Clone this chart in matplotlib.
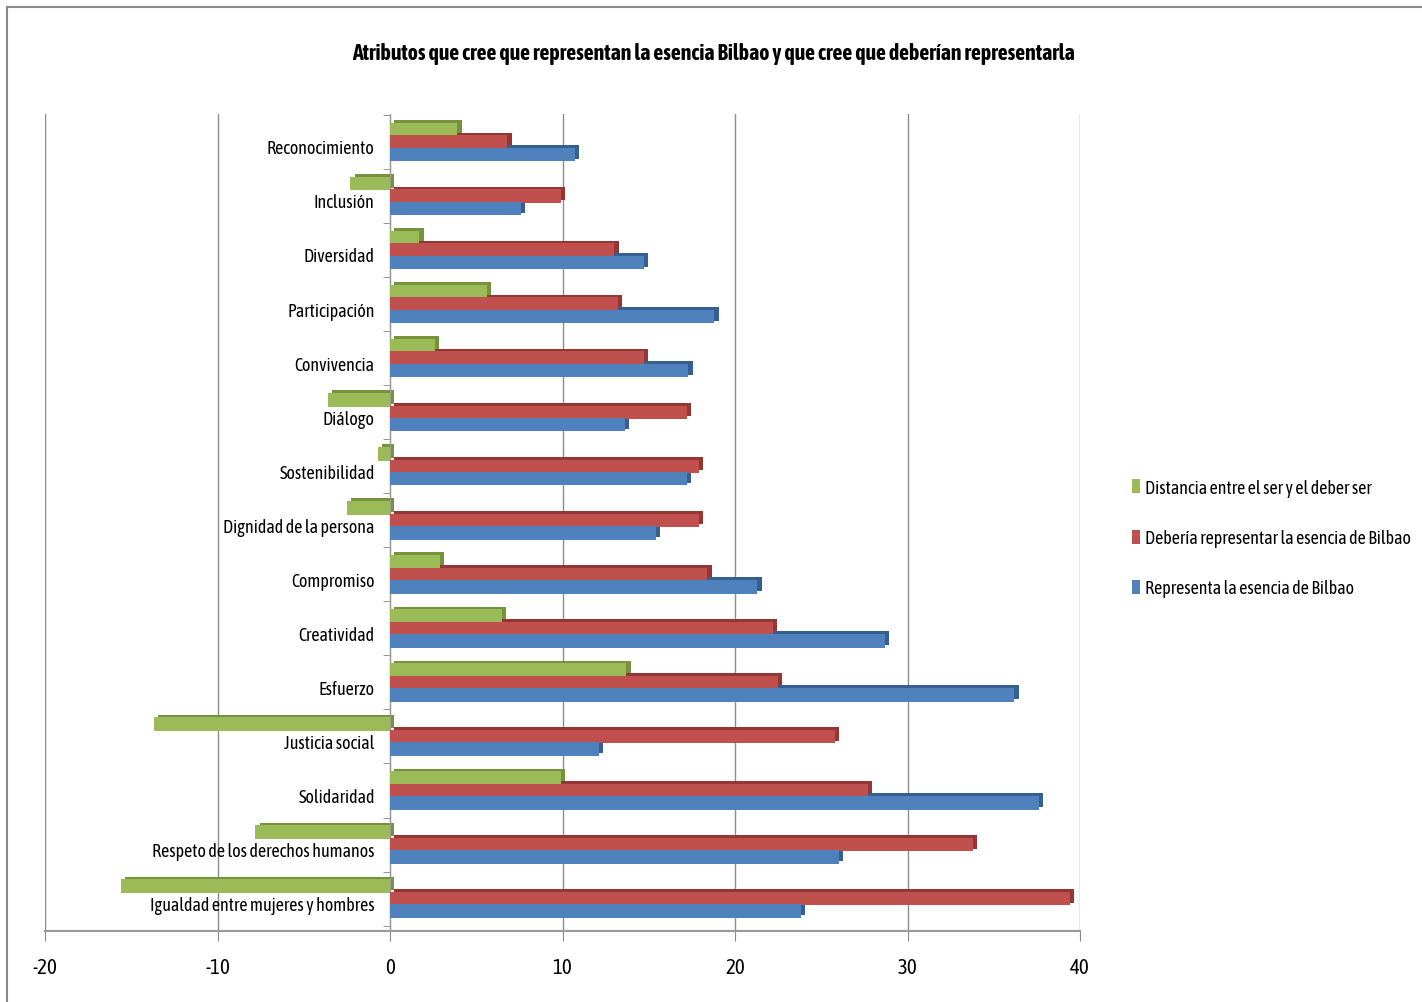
import matplotlib.pyplot as plt
import numpy as np
from matplotlib.patches import Rectangle

plt.rcParams["font.family"] = ["Asap Condensed", "Archivo Narrow", "DejaVu Sans"]

categories = [
    "Reconocimiento",
    "Inclusión",
    "Diversidad",
    "Participación",
    "Convivencia",
    "Diálogo",
    "Sostenibilidad",
    "Dignidad de la persona",
    "Compromiso",
    "Creatividad",
    "Esfuerzo",
    "Justicia social",
    "Solidaridad",
    "Respeto de los derechos humanos",
    "Igualdad entre mujeres y hombres",
]
representa = [10.7, 7.6, 14.7, 18.8, 17.3, 13.6, 17.2, 15.4, 21.3, 28.7, 36.2, 12.1, 37.6, 26.0, 23.8]
deberia = [6.8, 9.9, 13.0, 13.2, 14.7, 17.2, 17.9, 17.9, 18.4, 22.2, 22.5, 25.8, 27.7, 33.8, 39.4]
distancia = [3.9, -2.3, 1.7, 5.6, 2.6, -3.6, -0.7, -2.5, 2.9, 6.5, 13.7, -13.7, 9.9, -7.8, -15.6]
x_ticks = [-20, -10, 0, 10, 20, 30, 40]

series = [
    ("Distancia entre el ser y el deber ser", distancia, "#9BBB59", "#76923C", -0.23),
    ("Debería representar la esencia de Bilbao", deberia, "#C0504D", "#943634", 0.0),
    ("Representa la esencia de Bilbao", representa, "#4F81BD", "#365F91", 0.23),
]

fig = plt.figure(figsize=(14.22, 10.03), dpi=100)
ax = fig.add_axes([45 / 1422, 1 - 932 / 1003, (1080 - 45) / 1422, (932 - 115) / 1003])

y = np.arange(len(categories))
h = 0.25
handles = []
for label, vals, col, dark, off in series:
    vals = np.asarray(vals)
    # fake 3d depth: darker copy shifted back/up
    ax.barh(y + off - 0.05, vals, height=h, left=0.25, color=dark, zorder=2)
    b = ax.barh(y + off, vals, height=h, color=col, zorder=3, label=label)
    handles.append(b)

ax.set_xlim(-20, 40)
ax.set_ylim(14.6, -0.52)
ax.set_xticks(x_ticks)
ax.set_xticklabels([str(t) for t in x_ticks])
ax.set_yticks(y + 0.08)
ax.set_yticklabels(categories)
ax.set_yticks(np.arange(-0.5, len(categories), 1), minor=True)
ax.tick_params(axis="y", which="major", length=0, pad=11, labelsize=13)
ax.tick_params(axis="y", which="minor", length=5, color="#888888", direction="out")
ax.tick_params(axis="x", length=7, color="#888888", pad=12, labelsize=15)

ax.grid(axis="x", color="#8c8c8c", lw=1.0, zorder=0)
ax.set_axisbelow(True)
for s in ["top", "right"]:
    ax.spines[s].set_visible(False)
ax.spines["left"].set_position(("data", 0))
ax.spines["left"].set_color("#999999")
ax.spines["bottom"].set_color("#999999")
ax.spines["bottom"].set_linewidth(1.5)

fig.text(0.502, 1 - 54 / 1003, "Atributos que cree que representan la esencia Bilbao y que cree que deberían representarla",
         ha="center", va="center", fontsize=15.7, fontweight="bold")

fig.legend(handles=handles, loc="center left", bbox_to_anchor=(1116 / 1422, 1 - 539 / 1003),
           frameon=False, fontsize=13, handlelength=0.45, handleheight=0.8,
           handletextpad=0.25, labelspacing=1.8)

fig.patches.append(Rectangle((7 / 1422, -0.05), 1.1, 1 - 8 / 1003 + 0.05, transform=fig.transFigure,
                             fill=False, edgecolor="#8a8a8a", lw=1.5))

fig.savefig("out.png", dpi=100)
